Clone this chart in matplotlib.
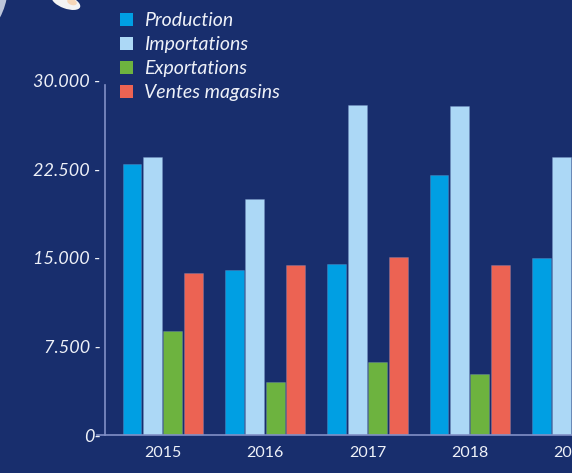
import matplotlib
matplotlib.use("Agg")
import matplotlib.pyplot as plt
from matplotlib.patches import Circle, Ellipse
import numpy as np

years = [2015, 2016, 2017, 2018, 2019]
production = [23000, 14000, 14500, 22000, 15000]
importations = [23600, 20000, 28000, 27900, 23600]
exportations = [8800, 4500, 6200, 5200, np.nan]
ventes = [13700, 14400, 15100, 14400, np.nan]
series_names = ["Production", "Importations", "Exportations", "Ventes magasins"]
colors = ["#009fe3", "#acd8f6", "#6db33f", "#ec6353"]
yticks = [0, 7500, 15000, 22500, 30000]
ytick_labels = ["0-", "7.500 -", "15.000 -", "22.500 -", "30.000 -"]

bg = "#182e6d"
spine_c = "#8190c6"

fig = plt.figure(figsize=(5.72, 4.73), dpi=100, facecolor=bg)
W, H = 572, 473
ax_left, ax_right = 97, 572
ax_bottom, ax_top = 435, 81
ax = fig.add_axes([ax_left / W, (H - ax_bottom) / H,
                   (ax_right - ax_left) / W, (ax_bottom - ax_top) / H])
ax.set_facecolor(bg)

x = np.arange(len(years))
offsets = [-0.30, -0.10, 0.10, 0.30]
width = 0.185
for vals, off, c, name in zip([production, importations, exportations, ventes],
                              offsets, colors, series_names):
    ax.bar(x + off, vals, width=width, color=c, label=name, zorder=2,
           edgecolor=(0.5, 0.6, 0.8, 0.35), linewidth=0.6)

ax.set_xlim(-0.642, 3.943)
ax.set_ylim(0, 30000)
for s in ["top", "right"]:
    ax.spines[s].set_visible(False)
ax.spines["left"].set_position(("data", -0.565))
ax.spines["left"].set_bounds(0, 29700)
ax.spines["left"].set_color(spine_c)
ax.spines["bottom"].set_color(spine_c)
ax.spines["left"].set_linewidth(1.2)
ax.spines["bottom"].set_linewidth(1.2)
ax.spines["left"].set_zorder(3)
ax.spines["bottom"].set_zorder(3)

ax.set_xticks(x)
ax.set_xticklabels([str(y) for y in years], fontfamily="Lato", fontsize=11.5,
                   color="#eef1f8")
ax.tick_params(axis="x", length=0, pad=8)
ax.set_yticks(yticks)
ax.set_yticklabels(ytick_labels)
ax.tick_params(axis="y", length=0, pad=3)
for t in ax.get_yticklabels():
    t.set_fontfamily("Lato")
    t.set_fontstyle("italic")
    t.set_fontsize(13)
    t.set_color("#eef1f8")

leg = ax.legend(loc="upper left", bbox_to_anchor=(120 / W, 1 - 12 / H),
                bbox_transform=fig.transFigure, frameon=False,
                handlelength=0.67, handleheight=0.67, handletextpad=0.55,
                labelspacing=0.36, borderaxespad=0, borderpad=0,
                prop={"family": "Lato", "style": "italic", "size": 14})
for t in leg.get_texts():
    t.set_color("#eef1f8")
for h in leg.legend_handles:
    h.set_edgecolor("none")

# decorative shapes in the top-left corner
fig.patches.append(Circle((-62, 488), 70, transform=None, facecolor="#bcc5da",
                          edgecolor="none"))
fig.patches.append(Ellipse((66, 471), 30, 13, angle=-20, transform=None,
                           facecolor="#f4f4f4", edgecolor="none"))
fig.patches.append(Ellipse((72, 471), 10, 6, angle=-20, transform=None,
                           facecolor="#f7d7b8", edgecolor="none"))

fig.savefig("out.png", dpi=100, facecolor=bg)
